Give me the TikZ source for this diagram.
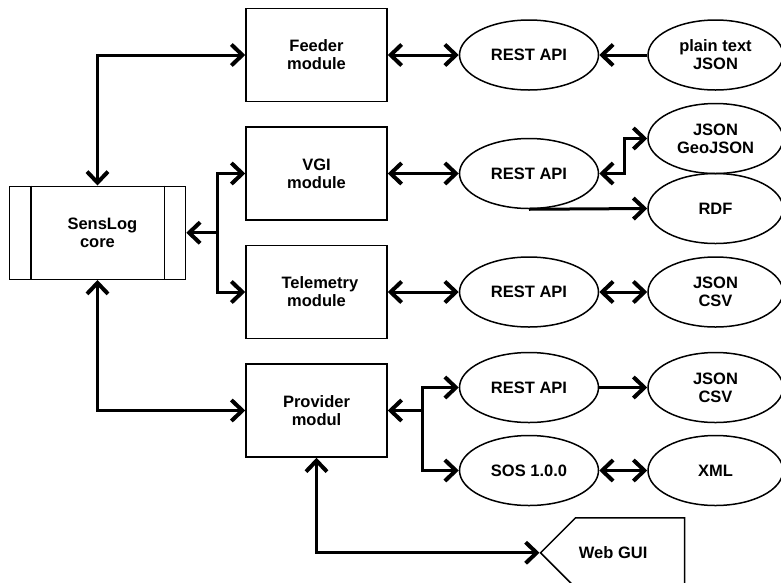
\documentclass[tikz,border=0pt]{standalone}
\usepackage{fontspec}
\setmainfont{Liberation Sans}
\usetikzlibrary{shapes, shapes.symbols, arrows.meta, positioning, calc}

\begin{document}
\begin{tikzpicture}[
    x=1pt, y=-1pt,
    % Define the style for each block
    corebox/.style={rectangle, draw, line width=1.5pt, text centered, minimum width=176pt, minimum height=93pt, text width=6em},
    module/.style={rectangle, draw, line width=1.5pt, text centered, minimum width=141pt, minimum height=93pt, text width=7em},
    api/.style={ellipse, draw, line width=1.5pt, align=center, minimum width=139pt, minimum height=70pt},
    fmt/.style={ellipse, draw, line width=1.5pt, align=center, minimum width=135pt, minimum height=70pt},
    gui/.style={signal, signal to=west, draw, line width=1.5pt, minimum width=142pt, minimum height=70pt},
    every node/.append style={font=\fontsize{16.5}{18}\selectfont\bfseries},
    >={Straight Barb[length=11pt, width=21pt, line width=4pt]},
    connector/.style={->, line width=3pt},
    twoway/.style={<->, line width=3pt}
]
\useasboundingbox (0,0) rectangle (781,582);

% Place nodes using explicit positioning
\node [module] (feeder) at (316.5,55) {Feeder\\module};
\node [module, below=24pt of feeder] (vgi) {VGI\\module};
\node [module, below=24pt of vgi] (tel) {Telemetry\\module};
\node [module, below=24pt of tel] (prov) {Provider\\modul};

\coordinate (mid) at ($(vgi.west)!0.5!(tel.west)$);
\node [corebox, left=59pt of mid] (core) {SensLog\\core};
\draw [line width=1.5pt] ([xshift=22pt]core.north west) -- ([xshift=22pt]core.south west);
\draw [line width=1.5pt] ([xshift=-22pt]core.north east) -- ([xshift=-22pt]core.south east);

\node [api, right=71pt of feeder] (rest1) {REST API};
\node [fmt, right=48pt of rest1] (plain) {plain text\\JSON};

\node [api, right=71pt of vgi] (rest2) {REST API};
\node [fmt, right=48pt of rest2, yshift=35pt] (geo) {JSON\\GeoJSON};
\node [fmt, right=48pt of rest2, yshift=-35pt] (rdf) {RDF};

\node [api, right=71pt of tel] (rest3) {REST API};
\node [fmt, right=48pt of rest3] (csv1) {JSON\\CSV};

\node [api, right=71pt of prov, yshift=23pt] (rest4) {REST API};
\node [fmt, right=48pt of rest4] (csv2) {JSON\\CSV};
\node [api, right=71pt of prov, yshift=-60pt] (sos) {SOS 1.0.0};
\node [fmt, right=48pt of sos] (xml) {XML};

\node [gui, anchor=west] (web) at ($(prov.south)+(223,95)$) {Web GUI\hspace*{34pt}};

% Draw connectors
\draw [twoway] (core.north) |- (feeder.west);
\draw [twoway] (core.south) |- (prov.west);
\coordinate (jcore) at ($(core.east)+(31,0)$);
\draw [connector] (jcore) -- (core.east);
\draw [twoway] (vgi.west) -| (jcore) |- (tel.west);

\draw [twoway] (feeder) -- (rest1);
\draw [connector] (plain) -- (rest1);

\draw [twoway] (vgi) -- (rest2);
\coordinate (jvgi) at ($(rest2.east)+(25,0)$);
\draw [twoway] (rest2.east) -- (jvgi) |- (geo.west);
\draw [connector] (rest2.south) -- (rdf.west);

\draw [twoway] (tel) -- (rest3);
\draw [twoway] (rest3) -- (csv1);

\coordinate (jprov) at ($(prov.east)+(35,0)$);
\draw [connector] (jprov) -- (prov.east);
\draw [twoway] (rest4.west) -| (jprov) |- (sos.west);
\draw [connector] (rest4) -- (csv2);
\draw [twoway] (sos) -- (xml);

\draw [twoway] (prov.south) |- (web.west);
\end{tikzpicture}
\end{document}
